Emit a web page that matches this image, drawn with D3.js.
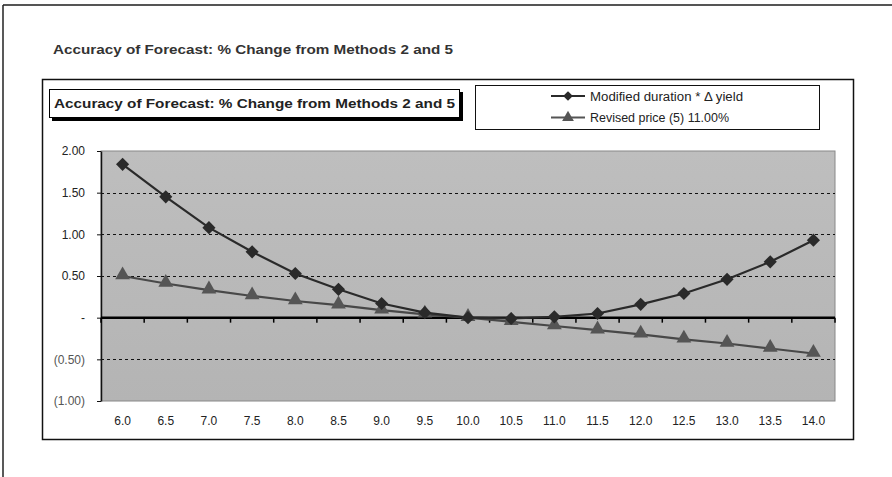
<!DOCTYPE html>
<html>
<head>
<meta charset="utf-8">
<script src="https://cdn.jsdelivr.net/npm/d3@7"></script>
<style>
  html, body { margin: 0; padding: 0; background: #fff; }
  svg { display: block; font-family: "Liberation Sans", Arial, sans-serif; }
</style>
</head>
<body>
<svg id="chart" width="892" height="477"></svg>
<script>
// Yield levels (%) along the x axis
const yields = ["6.0", "6.5", "7.0", "7.5", "8.0", "8.5", "9.0", "9.5", "10.0",
                "10.5", "11.0", "11.5", "12.0", "12.5", "13.0", "13.5", "14.0"];
// Modified duration * Δ yield
const durationEstimate = [1.84, 1.45, 1.08, 0.79, 0.53, 0.34, 0.17, 0.06, 0.00,
                          -0.01, 0.01, 0.05, 0.16, 0.29, 0.46, 0.67, 0.93];
// Revised price (5) 11.00%
const revisedPrice = [0.50, 0.41, 0.33, 0.26, 0.20, 0.15, 0.09, 0.04, 0.00,
                      -0.05, -0.10, -0.15, -0.20, -0.26, -0.31, -0.37, -0.43];
const seriesNames = ["Modified duration * \u0394 yield", "Revised price (5) 11.00%"];
const yTicks = [2.0, 1.5, 1.0, 0.5, 0, -0.5, -1.0];
const gridValues = [1.5, 1.0, 0.5, -0.5];
const titleText = "Accuracy of Forecast: % Change from Methods 2 and 5";

const svg = d3.select("#chart");

// Page frame (top and left rules)
svg.append("line").attr("x1", 3).attr("x2", 892).attr("y1", 5).attr("y2", 5)
  .attr("stroke", "#555").attr("stroke-width", 2);
svg.append("line").attr("x1", 3).attr("x2", 3).attr("y1", 5).attr("y2", 477)
  .attr("stroke", "#222").attr("stroke-width", 1.5);

// Heading above the chart object
svg.append("text").attr("x", 53).attr("y", 54)
  .attr("font-size", 13).attr("font-weight", "bold").attr("fill", "#333")
  .attr("textLength", 400).attr("lengthAdjust", "spacingAndGlyphs")
  .text(titleText);

// Chart object frame
svg.append("rect").attr("x", 42.5).attr("y", 79.5).attr("width", 811).attr("height", 360)
  .attr("fill", "#fff").attr("stroke", "#111").attr("stroke-width", 1.5);

// Chart title box with drop shadow
svg.append("rect").attr("x", 52).attr("y", 92).attr("width", 411).attr("height", 29).attr("fill", "#000");
svg.append("rect").attr("x", 49.5).attr("y", 89.5).attr("width", 410).attr("height", 28)
  .attr("fill", "#fff").attr("stroke", "#000").attr("stroke-width", 1);
svg.append("text").attr("x", 54).attr("y", 108)
  .attr("font-size", 13).attr("font-weight", "bold").attr("fill", "#222")
  .attr("textLength", 401).attr("lengthAdjust", "spacingAndGlyphs")
  .text(titleText);

// Plot area
const plot = { left: 101, right: 835, top: 151, bottom: 401 };
const x = d3.scaleBand().domain(yields).range([plot.left, plot.right]);
const y = d3.scaleLinear().domain([-1, 2]).range([plot.bottom, plot.top]);

const bgGrad = svg.append("defs").append("linearGradient")
  .attr("id", "plotBg").attr("x1", 0).attr("x2", 0).attr("y1", 0).attr("y2", 1);
bgGrad.append("stop").attr("offset", "0%").attr("stop-color", "#bebebe");
bgGrad.append("stop").attr("offset", "100%").attr("stop-color", "#b4b4b4");

svg.append("rect").attr("x", plot.left).attr("y", plot.top)
  .attr("width", plot.right - plot.left).attr("height", plot.bottom - plot.top)
  .attr("fill", "url(#plotBg)").attr("stroke", "#888").attr("stroke-width", 1);

// Dashed gridlines
svg.append("g").selectAll("line").data(gridValues).join("line")
  .attr("x1", plot.left).attr("x2", plot.right)
  .attr("y1", d => Math.round(y(d)) + 0.5).attr("y2", d => Math.round(y(d)) + 0.5)
  .attr("stroke", "#111").attr("stroke-width", 1).attr("stroke-dasharray", "3,3");

// Y axis
const fmt = d => d === 0 ? "-" : (d < 0 ? "(" + d3.format(".2f")(-d) + ")" : d3.format(".2f")(d));
const yAxis = svg.append("g").attr("transform", `translate(${plot.left},0)`)
  .call(d3.axisLeft(y).tickValues(yTicks).tickFormat(fmt).tickSize(4).tickSizeOuter(0).tickPadding(12));
yAxis.select(".domain").attr("stroke", "#111").attr("stroke-width", 1.5);
yAxis.selectAll(".tick line").attr("stroke", "#111");
yAxis.selectAll(".tick text").attr("font-size", 12)
  .attr("fill", d => d < 0 ? "#555" : "#222")
  .attr("font-family", "\"Liberation Sans\", Arial, sans-serif");

// Zero line with category ticks
const zeroY = y(0);
svg.append("line").attr("x1", plot.left).attr("x2", plot.right)
  .attr("y1", zeroY).attr("y2", zeroY).attr("stroke", "#000").attr("stroke-width", 2.5);
const boundaries = yields.map(d => x(d)).concat([plot.right]);
svg.append("g").selectAll("line").data(boundaries).join("line")
  .attr("x1", d => d).attr("x2", d => d).attr("y1", zeroY).attr("y2", zeroY + 5)
  .attr("stroke", "#000").attr("stroke-width", 1.5);

// X axis labels beneath the plot
svg.append("g").selectAll("text").data(yields).join("text")
  .attr("x", d => x(d) + x.bandwidth() / 2).attr("y", 425)
  .attr("text-anchor", "middle").attr("font-size", 12).attr("fill", "#222")
  .text(d => d);

const cx = (d, i) => x(yields[i]) + x.bandwidth() / 2;
const line = d3.line().x((d, i) => cx(d, i)).y(d => y(d));

// Revised price series (triangles)
svg.append("path").datum(revisedPrice).attr("d", line)
  .attr("fill", "none").attr("stroke", "#484848").attr("stroke-width", 2.2);
const tri = d3.symbol().type(d3.symbolTriangle).size(95);
svg.append("g").selectAll("path").data(revisedPrice).join("path")
  .attr("transform", (d, i) => `translate(${cx(d, i)},${y(d) - 1})`)
  .attr("d", tri).attr("fill", "#555");

// Modified duration series (diamonds)
svg.append("path").datum(durationEstimate).attr("d", line)
  .attr("fill", "none").attr("stroke", "#2a2a2a").attr("stroke-width", 2.2);
const dia = d3.symbol().type(d3.symbolDiamond2).size(110);
svg.append("g").selectAll("path").data(durationEstimate).join("path")
  .attr("transform", (d, i) => `translate(${cx(d, i)},${y(d)})`)
  .attr("d", dia).attr("fill", "#2a2a2a");

// Legend
const legend = svg.append("g");
legend.append("rect").attr("x", 475.5).attr("y", 85.5).attr("width", 344).attr("height", 44)
  .attr("fill", "#fff").attr("stroke", "#111").attr("stroke-width", 1);
const legendSym = {
  dia: d3.symbol().type(d3.symbolDiamond2).size(60),
  tri: d3.symbol().type(d3.symbolTriangle).size(60)
};
const legendRows = [
  { name: seriesNames[0], sym: legendSym.dia, color: "#2a2a2a", y: 96, w: 153 },
  { name: seriesNames[1], sym: legendSym.tri, color: "#555", y: 117.5, w: 139 }
];
legendRows.forEach(r => {
  legend.append("line").attr("x1", 551).attr("x2", 585).attr("y1", r.y).attr("y2", r.y)
    .attr("stroke", r.color).attr("stroke-width", 2);
  legend.append("path").attr("d", r.sym).attr("fill", r.color)
    .attr("transform", `translate(568,${r.y})`);
  legend.append("text").attr("x", 590).attr("y", r.y + 4.5).attr("font-size", 12.5)
    .attr("fill", "#222").attr("textLength", r.w).attr("lengthAdjust", "spacingAndGlyphs")
    .text(r.name);
});
</script>
</body>
</html>
